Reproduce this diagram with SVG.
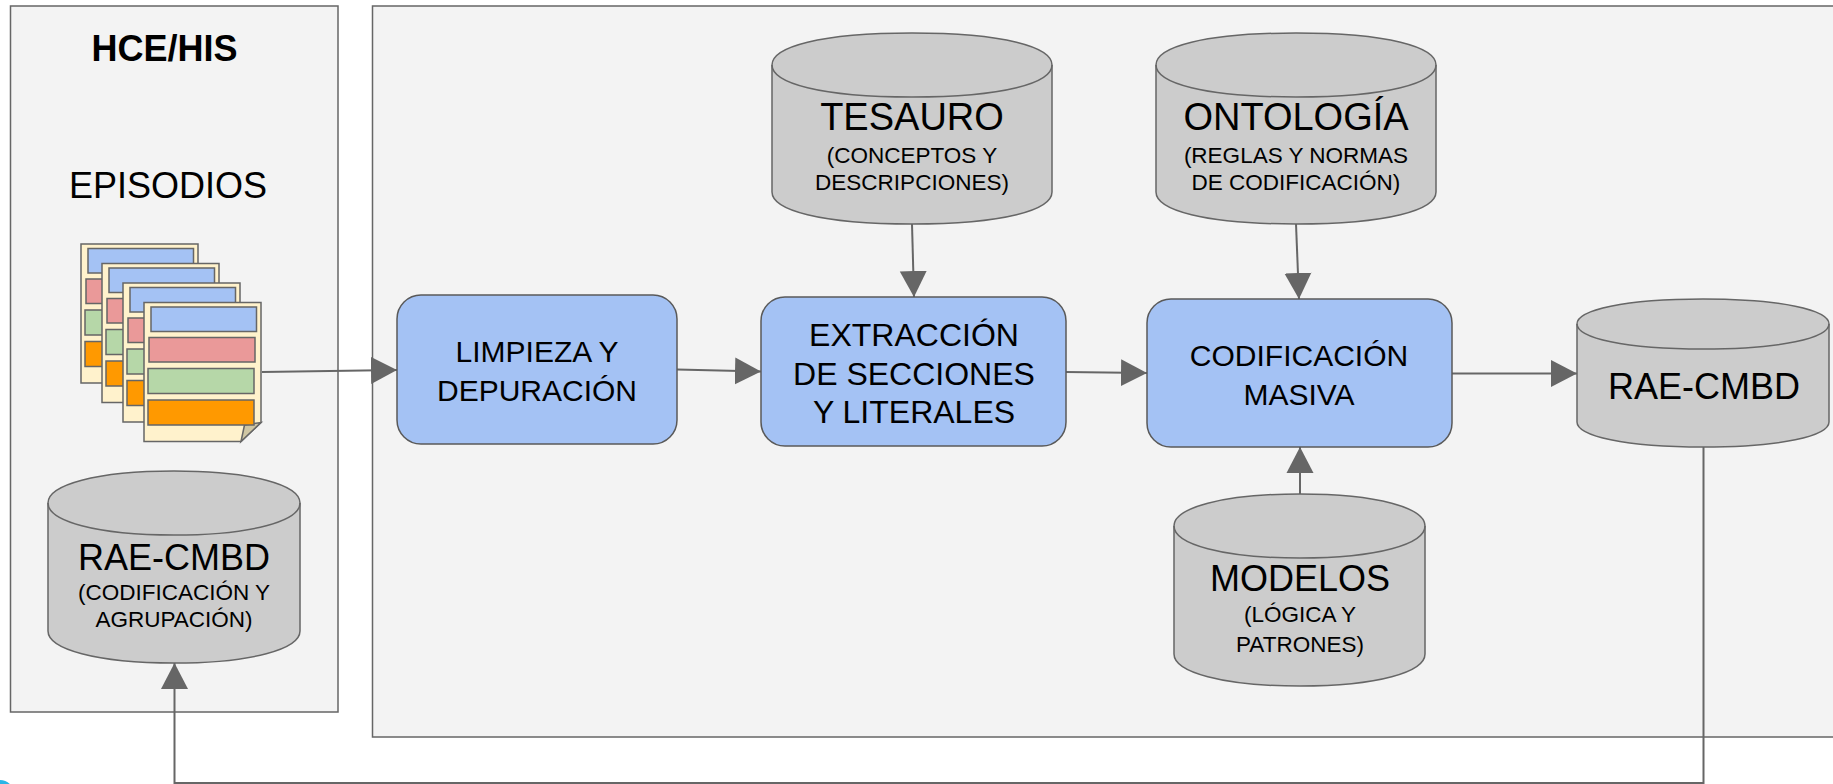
<svg xmlns="http://www.w3.org/2000/svg" xmlns:xlink="http://www.w3.org/1999/xlink" width="1833" height="784" viewBox="0 0 1833 784">
<style>
text{font-family:"Liberation Sans",Arial,sans-serif;fill:#000;text-anchor:middle}
.panel{fill:#f3f3f3;stroke:#666;stroke-width:1.5}
.box{fill:#a4c2f4;stroke:#595959;stroke-width:1.5}
.cyl{fill:#ccc;stroke:#666;stroke-width:1.5}
.conn{fill:none;stroke:#666;stroke-width:2}
.head{fill:#666}
.t28{font-size:28px}.t34{font-size:34px}.t36{font-size:36px}.t23{font-size:22.5px}.t30{font-size:30px}.t38b{font-size:36px;font-weight:bold}
.pg{fill:#fff2cc;stroke:#666;stroke-width:1.5}
.r{stroke:#666;stroke-width:1.5}
</style>
<defs>
<marker id="arr" markerUnits="userSpaceOnUse" markerWidth="27" markerHeight="28" refX="26" refY="13.5" orient="auto" viewBox="0 0 27 27"><path d="M0 0L26 13.5L0 27Z" fill="#666"/></marker>
<g id="page">
<path class="pg" d="M0 0H117V139H0Z"/>
<rect class="r" x="7" y="4.500" width="105.500" height="24.500" fill="#a4c2f4"/>
<rect class="r" x="5" y="35" width="106" height="24.500" fill="#ea9999"/>
<rect class="r" x="4" y="66" width="106" height="25" fill="#b6d7a8"/>
<rect class="r" x="4" y="97.500" width="106" height="25" fill="#f90"/>
</g>
</defs>
<rect id="panel-hce" class="panel" x="10.500" y="6" width="327.500" height="706"/>
<rect id="panel-main" class="panel" x="372.500" y="6" width="1470" height="731"/>
<circle cx="0" cy="794" r="14" fill="#29b6e6"/>
<g id="connectors">
<path class="conn" d="M262 372L397 370" marker-end="url(#arr)"/>
<path class="conn" d="M677 369.500L761 371.500" marker-end="url(#arr)"/>
<path class="conn" d="M1066 372L1147 373" marker-end="url(#arr)"/>
<path class="conn" d="M1452 373.500H1577" marker-end="url(#arr)"/>
<path class="conn" d="M912 224L914 297" marker-end="url(#arr)"/>
<path class="conn" d="M1296 224L1299 299" marker-end="url(#arr)"/>
<path class="conn" d="M1300 494V447" marker-end="url(#arr)"/>
<path class="conn" d="M1703.500 447V783H174.500V663" marker-end="url(#arr)"/>
</g>
<g id="hce-title"><text class="t38b" x="164.500" y="61">HCE/HIS</text></g>
<g id="episodios-label"><text class="t36" x="168" y="198">EPISODIOS</text></g>
<g id="episodios">
<use xlink:href="#page" href="#page" x="81" y="244"/>
<use xlink:href="#page" href="#page" x="102" y="263.500"/>
<use xlink:href="#page" href="#page" x="123" y="283"/>
<g id="page-front">
<path class="pg" d="M144 302.500H261V422.500L241 441.500H144Z"/>
<path d="M241 441.500L244.500 425L261 422.500Z" fill="#cfc6a3" stroke="#666" stroke-width="1.500"/>
<rect class="r" x="151" y="307" width="105.500" height="24.500" fill="#a4c2f4"/>
<rect class="r" x="149" y="337.500" width="106" height="24.500" fill="#ea9999"/>
<rect class="r" x="148" y="368.500" width="106" height="25" fill="#b6d7a8"/>
<rect class="r" x="148" y="400" width="106" height="25" fill="#f90"/>
</g>
</g>
<g id="rae-hce">
<path class="cyl" d="M48 503C48 485 96 471 174 471S300 485 300 503V631C300 649 252 663 174 663S48 649 48 631Z"/>
<path class="cyl" fill="none" d="M48 503C48 521 96 535 174 535S300 521 300 503" style="fill:none"/>
<text class="t36" x="174" y="570">RAE-CMBD</text>
<text class="t23" x="174" y="600">(CODIFICACIÓN Y</text>
<text class="t23" x="174" y="627">AGRUPACIÓN)</text>
</g>
<g id="limpieza">
<rect class="box" x="397" y="295" width="280" height="149" rx="24"/>
<text class="t30" x="537" y="362">LIMPIEZA Y</text>
<text class="t30" x="537" y="401">DEPURACIÓN</text>
</g>
<g id="extraccion">
<rect class="box" x="761" y="297" width="305" height="149" rx="24"/>
<text class="t34" x="914" y="346" style="font-size:32px">EXTRACCIÓN</text>
<text class="t34" x="914" y="385" style="font-size:32px">DE SECCIONES</text>
<text class="t34" x="914" y="423" style="font-size:32px">Y  LITERALES</text>
</g>
<g id="codificacion">
<rect class="box" x="1147" y="299" width="305" height="148" rx="24"/>
<text class="t30" x="1299" y="366">CODIFICACIÓN</text>
<text class="t30" x="1299" y="405">MASIVA</text>
</g>
<g id="tesauro">
<path class="cyl" d="M772 65C772 47 820 33 912 33S1052 47 1052 65V192C1052 210 1004 224 912 224S772 210 772 192Z"/>
<path class="cyl" style="fill:none" d="M772 65C772 83 820 97 912 97S1052 83 1052 65"/>
<text class="t36" x="912" y="130" style="font-size:38px">TESAURO</text>
<text class="t23" x="912" y="163">(CONCEPTOS Y</text>
<text class="t23" x="912" y="190">DESCRIPCIONES)</text>
</g>
<g id="ontologia">
<path class="cyl" d="M1156 65C1156 47 1204 33 1296 33S1436 47 1436 65V192C1436 210 1388 224 1296 224S1156 210 1156 192Z"/>
<path class="cyl" style="fill:none" d="M1156 65C1156 83 1204 97 1296 97S1436 83 1436 65"/>
<text class="t36" x="1296" y="130" style="font-size:38px">ONTOLOGÍA</text>
<text class="t23" x="1296" y="163">(REGLAS Y NORMAS</text>
<text class="t23" x="1296" y="190">DE CODIFICACIÓN)</text>
</g>
<g id="modelos">
<path class="cyl" d="M1174 526C1174 508 1222 494 1300 494S1425 508 1425 526V654C1425 672 1378 686 1300 686S1174 672 1174 654Z"/>
<path class="cyl" style="fill:none" d="M1174 526C1174 544 1222 558 1300 558S1425 544 1425 526"/>
<text class="t36" x="1300" y="591">MODELOS</text>
<text class="t23" x="1300" y="622">(LÓGICA Y</text>
<text class="t23" x="1300" y="652">PATRONES)</text>
</g>
<g id="rae-salida">
<path class="cyl" d="M1577 324C1577 310 1625 299 1703 299S1829 310 1829 324V422C1829 436 1781 447 1703 447S1577 436 1577 422Z"/>
<path class="cyl" style="fill:none" d="M1577 324C1577 338 1625 349 1703 349S1829 338 1829 324"/>
<text class="t36" x="1704" y="399">RAE-CMBD</text>
</g>
</svg>
